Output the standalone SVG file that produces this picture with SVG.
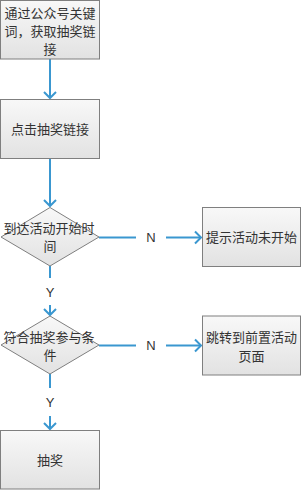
<svg xmlns="http://www.w3.org/2000/svg" width="302" height="490" viewBox="0 0 302 490">
<defs>
<linearGradient id="g" x1="0" y1="0" x2="0" y2="1">
<stop offset="0" stop-color="#f8f8f8"/>
<stop offset="1" stop-color="#e2e2e2"/>
</linearGradient>
<marker id="arr" markerUnits="userSpaceOnUse" viewBox="-8 -8 10 16" refX="0" refY="0" markerWidth="10" markerHeight="16" orient="auto">
<path d="M-6,-6 L0,0 L-6,6" fill="none" stroke="#3a97d0" stroke-width="2"/>
</marker>
<style>
.box{fill:url(#g);stroke:#7f7f7f;stroke-width:1}
.t{font-family:"Liberation Sans","Noto Sans CJK SC",sans-serif;font-size:13px;fill:#333;text-anchor:middle;dominant-baseline:central}
.l{font-family:"Liberation Sans","Noto Sans CJK SC",sans-serif;font-size:13px;fill:#333;text-anchor:middle;dominant-baseline:central}
.c{fill:none;stroke:#3a97d0;stroke-width:2}
</style>
</defs>
<g id="connectors">
<line class="c" x1="50" y1="59" x2="50" y2="98" marker-end="url(#arr)"/>
<line class="c" x1="50" y1="159" x2="50" y2="206" marker-end="url(#arr)"/>
<line class="c" x1="99" y1="237.5" x2="136" y2="237.5"/>
<line class="c" x1="166" y1="237.5" x2="201" y2="237.5" marker-end="url(#arr)"/>
<text class="l" x="151" y="237.5">N</text>
<line class="c" x1="50" y1="266" x2="50" y2="278"/>
<line class="c" x1="50" y1="305" x2="50" y2="315" marker-end="url(#arr)"/>
<text class="l" x="50" y="292">Y</text>
<line class="c" x1="99" y1="345.5" x2="136" y2="345.5"/>
<line class="c" x1="166" y1="345.5" x2="201" y2="345.5" marker-end="url(#arr)"/>
<text class="l" x="151" y="345.5">N</text>
<line class="c" x1="50" y1="374" x2="50" y2="388"/>
<line class="c" x1="50" y1="416" x2="50" y2="429" marker-end="url(#arr)"/>
<text class="l" x="50" y="402">Y</text>
</g>
<g id="n1">
<rect class="box" x="0.5" y="0.5" width="99" height="58.5"/>
<text class="t" x="50" y="13.5">通过公众号关键</text>
<text class="t" x="50" y="31.5">词，获取抽奖链</text>
<text class="t" x="50" y="49.5">接</text>
</g>
<g id="n2">
<rect class="box" x="0.5" y="99.5" width="99" height="59"/>
<text class="t" x="50" y="129">点击抽奖链接</text>
</g>
<g id="d1">
<polygon class="box" points="50,207.5 99,237 50,266 1,237"/>
<text class="t" x="49" y="228.5">到达活动开始时</text>
<text class="t" x="50" y="246.5">间</text>
</g>
<g id="n3">
<rect class="box" x="202.5" y="207.5" width="98" height="59"/>
<text class="t" x="251.5" y="237.5">提示活动未开始</text>
</g>
<g id="d2">
<polygon class="box" points="50,316 99,345 50,374 1,345"/>
<text class="t" x="49" y="337">符合抽奖参与条</text>
<text class="t" x="50" y="355">件</text>
</g>
<g id="n4">
<rect class="box" x="202.5" y="316" width="98" height="59"/>
<text class="t" x="251.5" y="337">跳转到前置活动</text>
<text class="t" x="251.5" y="356">页面</text>
</g>
<g id="n5">
<rect class="box" x="0.5" y="430.5" width="99" height="58.5"/>
<text class="t" x="50" y="460">抽奖</text>
</g>
</svg>
